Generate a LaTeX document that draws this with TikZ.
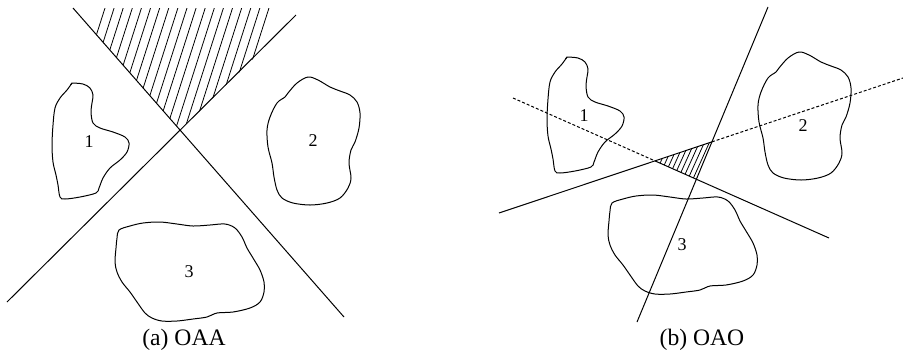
\documentclass[tikz,border=0pt]{standalone}
\usepackage{fontspec}
\setmainfont{Liberation Serif}

\tikzset{
  border/.style={line width=0.5pt},
  dashpart/.style={border, dash pattern=on 1.5pt off 1pt},
  hatchline/.style={line width=0.4pt},
  num/.style={font=\fontsize{9}{10}\selectfont, inner sep=0pt},
  caption/.style={font=\fontsize{11.8}{13}\selectfont, inner sep=0pt},
  % the three regions, drawn at their place in panel (a)
  regionone/.pic={
    \draw[border] plot[smooth, tension=0.55] coordinates {
      (72,83) (83,84) (90,88) (93,95) (92,103) (91,112) (93,123) (100,128)
      (113,132) (125,137) (129,143) (127,152) (120,160) (110,168) (103,178)
      (99,188) (96,193) (80,197) (65,199) (60,197) (58,185) (56,175)
      (53,162) (52,145) (53,125) (55,108) (60,98) (67,90) (72,83)};
    \draw[border] (72,83) -- (70.5,85);
  },
  regiontwo/.pic={
    \draw[border] plot[smooth cycle, tension=0.55] coordinates {
      (297,83) (308,77) (318,80) (330,87) (340,91) (350,95) (357,102)
      (360,113) (359,128) (355,142) (351,150) (349,163) (351,178) (348,188)
      (340,198) (327,203) (310,205) (293,203) (282,198) (277,190) (274,177)
      (272,163) (268,147) (267,130) (270,117) (277,103) (285,97) (288,93)};
  },
  regionthree/.pic={
    \draw[border] plot[smooth cycle, tension=0.55] coordinates {
      (119,230) (130,226) (143,223) (160,222) (177,224) (193,226) (210,225)
      (225,224) (235,228) (242,237) (247,248) (253,258) (260,270) (264,282)
      (264,292) (260,302) (250,308) (233,312) (217,313) (207,317) (193,319)
      (177,321) (162,321) (152,318) (145,313) (137,302) (130,292) (122,282)
      (117,272) (115,262) (116,248) (117,238)};
  },
}

\begin{document}
\begin{tikzpicture}[x=0.5pt,y=-0.5pt]
  \useasboundingbox (0,0) rectangle (903,355);

  % ---- (a) OAA
  \coordinate (a-nw) at (73,8);
  \coordinate (a-se) at (344,317);
  \coordinate (a-ne) at (296,15);
  \coordinate (a-sw) at (7,302);
  \coordinate (a-o) at (intersection of a-nw--a-se and a-ne--a-sw);
  \begin{scope}
    \clip (a-o) -- (73,8) -- (305,8) -- cycle;
    \foreach \k in {0,...,18}
      \draw[hatchline] (105+9.11*\k,8) -- ++(-48,150);
  \end{scope}
  \draw[border] (a-nw) -- (a-se);
  \draw[border] (a-ne) -- (a-sw);
  \pic at (0,0) {regionone};
  \pic at (0,0) {regiontwo};
  \pic at (0,0) {regionthree};
  \node[num] (a-one) at (89,142) {1};
  \node[num] (a-two) at (313,141) {2};
  \node[num] (a-three) at (189,272) {3};
  \node[caption] (a-cap) at (184,340) {(a) OAA};

  % ---- (b) OAO
  \coordinate (b-n) at (768,7);
  \coordinate (b-s) at (637,322);
  \coordinate (b-sw) at (499,213);
  \coordinate (b-ne) at (903,78);
  \coordinate (b-nw) at (513,98);
  \coordinate (b-se) at (829,238);
  \coordinate (b-l) at (intersection of b-sw--b-ne and b-nw--b-se);
  \coordinate (b-r) at (intersection of b-sw--b-ne and b-n--b-s);
  \coordinate (b-b) at (intersection of b-n--b-s and b-nw--b-se);
  \begin{scope}
    \clip (b-l) -- (b-r) -- (b-b) -- cycle;
    \foreach \k in {0,...,22}
      \draw[hatchline] (640+5*\k,130) -- ++(-27,60);
  \end{scope}
  \draw[border] (b-n) -- (b-s);
  \draw[border] (b-sw) -- (b-r);
  \draw[dashpart] (b-r) -- (b-ne);
  \draw[dashpart] (b-nw) -- (b-l);
  \draw[border] (b-l) -- (b-se);
  \pic at (495,-26) {regionone};
  \pic at (491,-25) {regiontwo};
  \pic at (493,-27) {regionthree};
  \node[num] (b-one) at (584,116) {1};
  \node[num] (b-two) at (803,126) {2};
  \node[num] (b-three) at (682,245) {3};
  \node[caption] (b-cap) at (702,340) {(b) OAO};
\end{tikzpicture}
\end{document}
